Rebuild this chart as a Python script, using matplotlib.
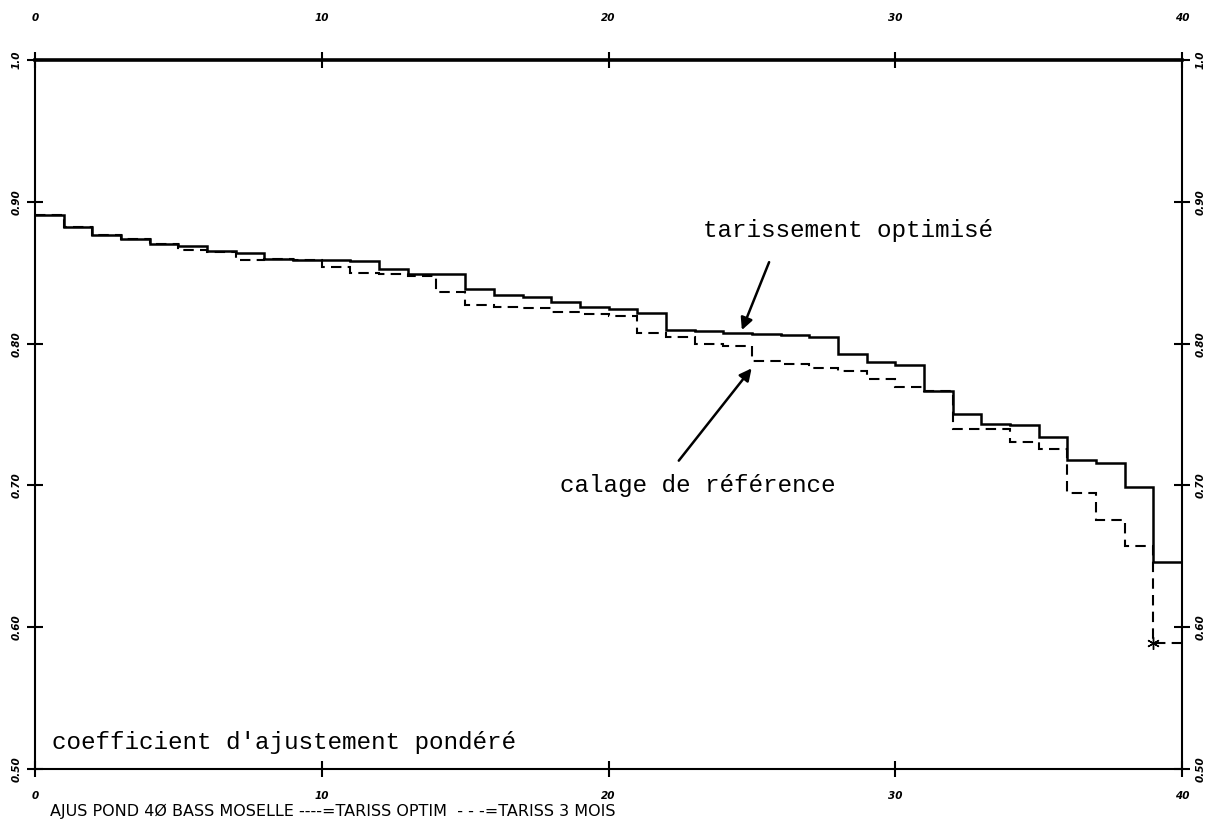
import matplotlib
matplotlib.use("Agg")
import matplotlib.pyplot as plt
import numpy as np

# step edges 0..40, one value per interval
edges = np.arange(0, 41)

# tarissement optimise (solid)
tariss_optim = [0.891, 0.882, 0.8766, 0.8735, 0.870, 0.869, 0.8653, 0.8637, 0.860, 0.8592,
                0.8588, 0.8585, 0.8526, 0.849, 0.849, 0.8385, 0.834, 0.8332, 0.8296, 0.826,
                0.8242, 0.8218, 0.810, 0.8089, 0.8072, 0.8065, 0.806, 0.805, 0.7927, 0.787,
                0.785, 0.7666, 0.7504, 0.7435, 0.743, 0.7339, 0.7183, 0.716, 0.6987, 0.6462]

# tarissement 3 mois / calage de reference (dashed)
tariss_3mois = [0.891, 0.882, 0.8766, 0.8735, 0.870, 0.866, 0.8648, 0.859, 0.8595, 0.859,
                0.8538, 0.850, 0.8495, 0.848, 0.8362, 0.8272, 0.826, 0.825, 0.8226, 0.8207,
                0.8195, 0.8072, 0.8044, 0.800, 0.7983, 0.788, 0.7856, 0.783, 0.781, 0.7748,
                0.7696, 0.7666, 0.7395, 0.7395, 0.7304, 0.7257, 0.695, 0.6756, 0.6573, 0.5886]

x_ticks = [0, 10, 20, 30, 40]
y_ticks = [0.5, 0.6, 0.7, 0.8, 0.9, 1.0]
y_labels = ["0.50", "0.60", "0.70", "0.80", "0.90", "1.0"]

fig = plt.figure(figsize=(12.08, 8.35), dpi=100)
ax = fig.add_axes([0.029, 0.079, 0.9495, 0.849])

ax.stairs(tariss_optim, edges, color="black", lw=1.8, baseline=None)
ax.stairs(tariss_3mois, edges, color="black", lw=1.5, baseline=None,
          linestyle=(0, (5, 3)))
ax.plot(edges[-2], tariss_3mois[-1], marker=(6, 2, 0), color="black", ms=9)

ax.set_xlim(0, 40)
ax.set_ylim(0.5, 1.0)
ax.set_xticks(x_ticks)
ax.set_yticks(y_ticks)
ax.set_yticklabels(y_labels)

for side in ["left", "right", "bottom"]:
    ax.spines[side].set_linewidth(1.5)
ax.spines["top"].set_linewidth(2.6)

ax.tick_params(direction="inout", length=12, width=1.5, top=True, right=True)
ax.tick_params(axis="x", labelsize=7.5, pad=10)
ax.tick_params(axis="y", labelsize=7.5, pad=4)

# labels on top and right, further from the frame
top = ax.secondary_xaxis("top")
top.set_xticks(x_ticks)
top.tick_params(length=0, labelsize=7.5, pad=27)
right = ax.secondary_yaxis("right")
right.set_yticks(y_ticks)
right.set_yticklabels(y_labels)
right.tick_params(length=0, labelsize=7.5, pad=10)
for a in (top, right):
    for s in a.spines.values():
        s.set_visible(False)

for lab in (ax.get_xticklabels() + ax.get_yticklabels()
            + top.get_xticklabels() + right.get_yticklabels()):
    lab.set_fontweight("bold")
    lab.set_fontstyle("italic")
for lab in ax.get_yticklabels() + right.get_yticklabels():
    lab.set_rotation(90)
    lab.set_va("center")

mono = "Liberation Mono"
arrow = dict(arrowstyle="-|>", color="black", lw=1.8, mutation_scale=18,
             shrinkA=0, shrinkB=0)
ax.text(28.35, 0.880, "tarissement optimisé", fontsize=17.5, family=mono,
        ha="center", va="center")
ax.annotate("", xy=(24.65, 0.8096), xytext=(25.6, 0.8575), arrowprops=arrow)
ax.text(23.12, 0.700, "calage de référence", fontsize=17.5, family=mono,
        ha="center", va="center")
ax.annotate("", xy=(24.99, 0.7826), xytext=(22.45, 0.7175), arrowprops=arrow)
ax.text(0.6, 0.519, "coefficient d'ajustement pondéré", fontsize=17.5,
        family=mono, ha="left", va="center")

fig.text(50 / 1208, 1 - 811 / 835,
         "AJUS POND 4Ø BASS MOSELLE ----=TARISS OPTIM  - - -=TARISS 3 MOIS",
         fontsize=11.5, family="DejaVu Sans", ha="left", va="center")

fig.savefig("out.png", dpi=100)
